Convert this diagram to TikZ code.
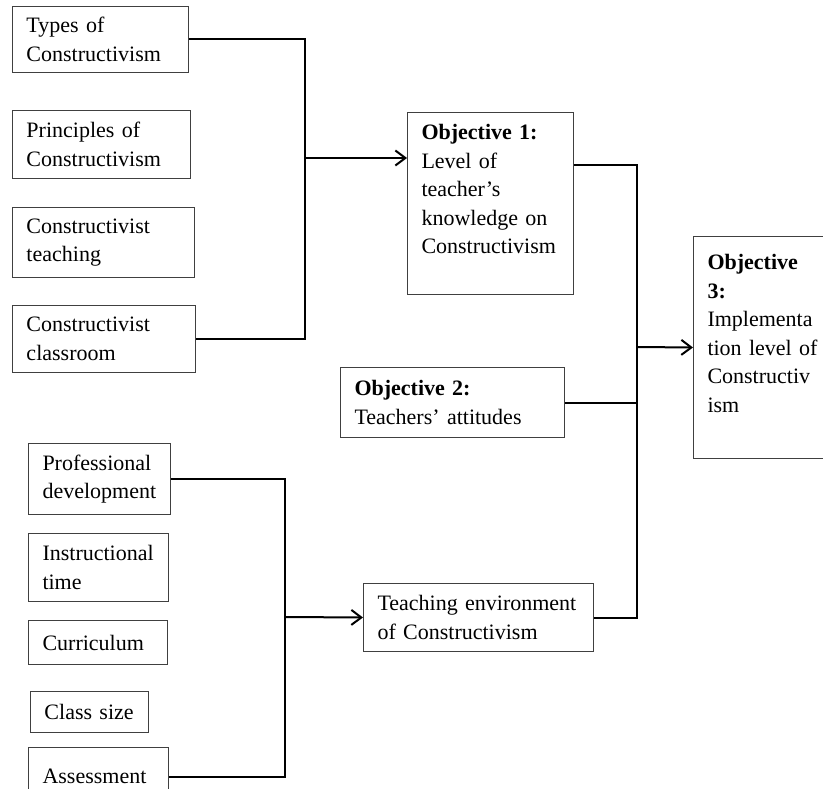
\documentclass[tikz,border=0pt]{standalone}
\usepackage{fontspec}
\setmainfont{Liberation Serif}
\usetikzlibrary{arrows.meta}
\hyphenpenalty=10000

\begin{document}
\begin{tikzpicture}[x=1pt,y=-1pt,
  box/.style={draw=black!75, line width=1pt, anchor=north west, align=left,
    inner xsep=14pt, inner ysep=0pt, font=\fontsize{22}{28.5}\selectfont},
  link/.style={line width=2pt},
  arr/.style={link, -{Straight Barb[length=10pt,width=15pt]}}]
\useasboundingbox (0,0) rectangle (823,789);

% left column, first group
\node[box, text width=148, minimum height=66] (types) at (12,6) {Types of\\Constructivism};
\node[box, text width=150, minimum height=68] (princ) at (12,110) {Principles of\\Constructivism};
\node[box, text width=154, minimum height=70] (cteach) at (12,207) {Constructivist\\teaching};
\node[box, text width=155, minimum height=67] (cclass) at (12,305) {Constructivist\\classroom};

% left column, second group
\node[box, text width=114, minimum height=71] (profdev) at (28,443) {Professional\\development};
\node[box, text width=112, minimum height=68] (insttime) at (28,533) {Instructional\\time};
\node[box, text width=111, minimum height=44] (curric) at (28,620) {Curriculum};
\node[box, text width=90, minimum height=41] (csize) at (30,691) {Class size};
\node[box, text width=112, minimum height=58] (assess) at (28,747) {Assessment};

% objectives
\node[box, text width=138, minimum height=182] (obj1) at (407,112)
  {\textbf{Objective 1:}\\Level of\\teacher’s\\knowledge on\\Constructivism\\\mbox{}};
\node[box, text width=196, minimum height=70] (obj2) at (340,367)
  {\textbf{Objective 2:}\\Teachers’ attitudes};
\node[box, text width=202, minimum height=68] (teachenv) at (363,583)
  {Teaching environment\\of Constructivism};
\node[box, text width=112, minimum height=222] (obj3) at (693,236)
  {\textbf{Objective}\\\textbf{3:}\\Implementa\\tion level of\\Constructiv\\ism\\\mbox{}};

% connectors
\coordinate (b1) at (305,158);
\coordinate (b2) at (637,347);
\coordinate (b3) at (285,617);
\draw[link] (types.east) -| (b1) |- (cclass.east);
\draw[arr] (b1) -- (b1 -| obj1.west);
\draw[link] ([yshift=-53pt]obj1.north east) -| (b2) |- (teachenv.east);
\draw[link] (obj2.east) -- (obj2.east -| b2);
\draw[arr] (b2) -- (obj3.west);
\draw[link] (profdev.east) -| (b3) |- (assess.east);
\draw[arr] (b3) -- (teachenv.west);
\end{tikzpicture}
\end{document}
